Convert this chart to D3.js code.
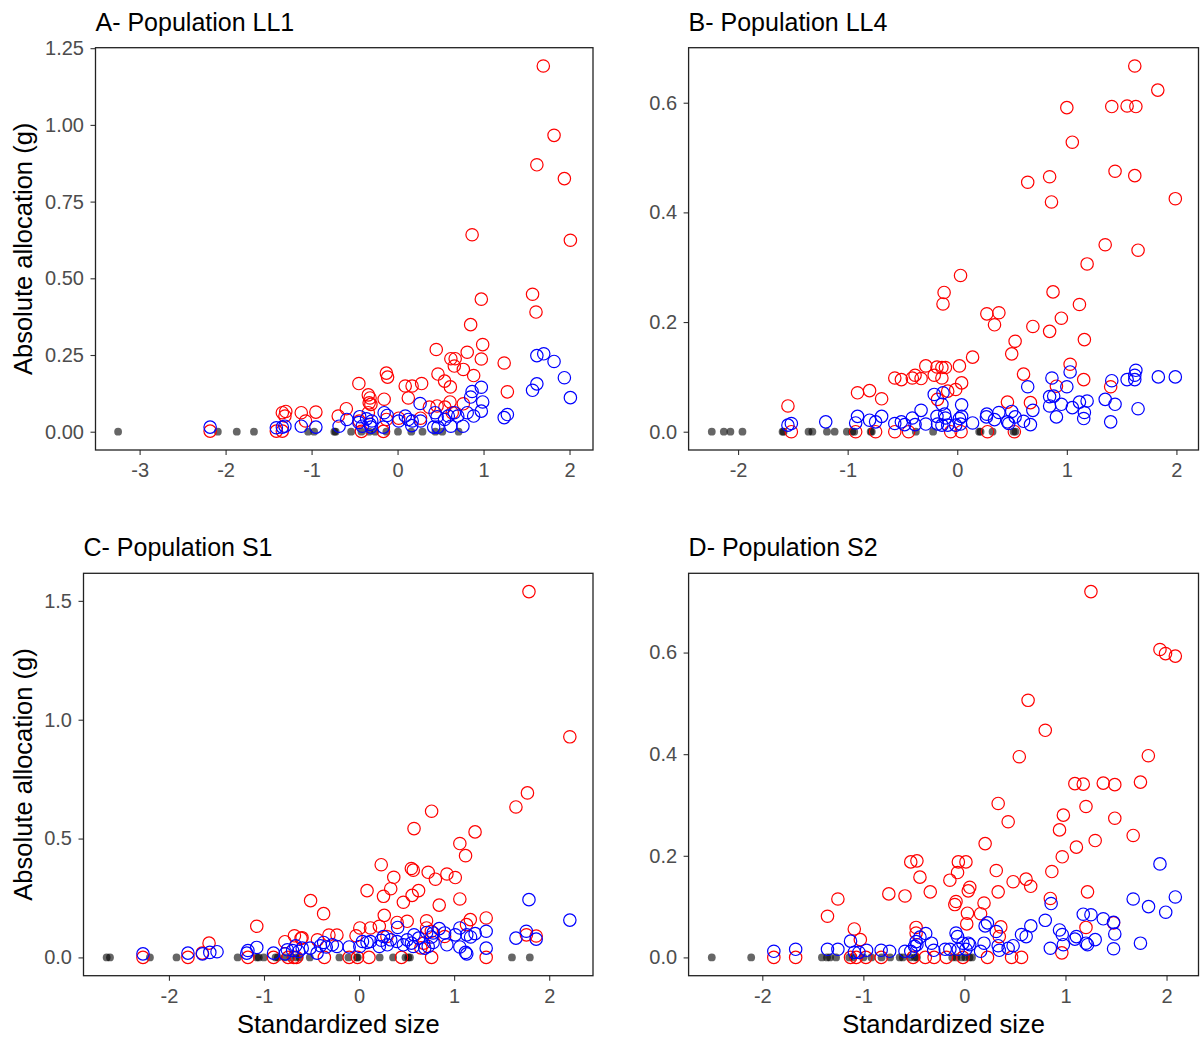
<!DOCTYPE html>
<html>
<head>
<meta charset="utf-8">
<script src="https://cdn.jsdelivr.net/npm/d3@7"></script>
<style>
  body { margin: 0; background: #fff; }
  #chart text { font-family: 'Liberation Sans', Arial, sans-serif; }
</style>
</head>
<body>
<div id="chart"></div>
<script>
// [standardized size, allocation (g)]
const ll1Red = [[1.695,1.192],[1.82,0.966],[1.62,0.87],[1.94,0.825],[2.01,0.624],[0.867,0.642],[1.57,0.448],[1.61,0.39],[0.974,0.432],[0.85,0.349],[0.99,0.284],[0.45,0.268],[0.81,0.259],[0.62,0.238],[0.67,0.238],[0.66,0.214],[0.974,0.237],[1.24,0.224],[0.765,0.203],[0.47,0.188],[0.885,0.183],[0.547,0.165],[0.614,0.146],[1.277,0.13],[-0.13,0.191],[-0.116,0.178],[0.089,0.149],[0.169,0.149],[0.28,0.157],[-0.45,0.157],[0.125,0.11],[-0.156,0.106],[-0.34,0.12],[-0.32,0.11],[-0.33,0.094],[-0.31,0.089],[-0.596,0.075],[-0.34,0.062],[-0.69,0.051],[-0.445,0.035],[-1.34,0.062],[-1.3,0.066],[-1.31,0.051],[-1.12,0.062],[-0.95,0.064],[-1.07,0.035],[0.37,0.08],[0.46,0.084],[0.55,0.08],[0.61,0.097],[0.765,0.091],[0.267,0.044],[0.013,0.044],[-0.13,0.04],[0.636,0.062],[-2.18,0.002],[-1.41,0.002],[-1.34,0.002],[-0.42,0.001],[-0.165,0.001]]
const ll1Blue = [[1.62,0.248],[1.7,0.254],[1.82,0.229],[1.94,0.176],[2.01,0.111],[1.57,0.135],[1.62,0.156],[0.974,0.145],[0.867,0.131],[0.85,0.113],[0.99,0.097],[0.974,0.067],[0.885,0.051],[0.81,0.062],[0.262,0.092],[1.24,0.046],[1.277,0.056],[-0.156,0.062],[-0.12,0.053],[0.09,0.051],[0.125,0.04],[0.17,0.035],[0.013,0.035],[0.267,0.035],[0.436,0.062],[0.46,0.049],[0.547,0.04],[0.59,0.051],[0.66,0.062],[0.7,0.051],[0.62,0.018],[0.76,0.018],[0.42,0.015],[0.47,0.015],[0.165,0.02],[-0.165,0.015],[-0.44,0.049],[-0.45,0.03],[-0.36,0.042],[-0.31,0.015],[-0.32,0.024],[-0.41,0.018],[-0.3,0.035],[-0.59,0.04],[-0.68,0.018],[-0.95,0.015],[-1.12,0.018],[-1.31,0.018],[-1.41,0.013],[-1.34,0.015],[-2.18,0.015]]
const ll1Zero = [-3.25,-2.09,-1.87,-1.67,-1.04,-0.97,-0.735,-0.72,-0.54,-0.42,-0.33,-0.26,-0.13,0.005,0.16,0.29,0.44,0.52,0.71]

const ll4Red = [[1.62,0.667],[1.83,0.623],[1.0,0.591],[1.41,0.593],[1.55,0.594],[1.63,0.593],[1.05,0.528],[1.44,0.475],[1.62,0.467],[0.843,0.465],[0.643,0.455],[0.86,0.419],[1.99,0.425],[1.35,0.341],[1.65,0.331],[1.185,0.306],[0.03,0.285],[-0.12,0.254],[-0.13,0.233],[0.874,0.255],[1.115,0.232],[0.27,0.215],[0.38,0.217],[0.34,0.195],[0.95,0.207],[0.69,0.192],[0.843,0.183],[1.16,0.168],[0.528,0.165],[0.497,0.142],[0.14,0.136],[-0.287,0.12],[-0.185,0.118],[-0.14,0.117],[-0.108,0.117],[0.02,0.12],[-0.21,0.103],[-0.14,0.098],[-0.57,0.098],[-0.51,0.095],[-0.41,0.098],[-0.385,0.103],[-0.33,0.097],[0.04,0.089],[-0.014,0.077],[-0.087,0.074],[0.605,0.105],[1.03,0.123],[1.154,0.095],[1.4,0.082],[0.905,0.083],[-0.91,0.071],[-0.8,0.075],[-0.69,0.06],[-0.18,0.059],[-1.545,0.047],[0.458,0.054],[0.668,0.053],[-1.514,0],[-0.927,0],[-0.745,0],[-0.57,0],[-0.444,0],[-0.06,0],[0.035,0],[0.276,0],[0.521,0]]
const ll4Blue = [[1.835,0.1],[1.99,0.1],[1.63,0.112],[1.62,0.095],[1.55,0.095],[1.62,0.103],[1.41,0.093],[0.864,0.098],[1.03,0.109],[1.0,0.082],[0.643,0.082],[0.843,0.064],[0.88,0.065],[1.35,0.059],[1.44,0.05],[1.115,0.054],[1.185,0.056],[0.95,0.05],[1.05,0.044],[0.843,0.047],[1.65,0.042],[0.69,0.039],[1.16,0.035],[1.154,0.024],[0.905,0.027],[1.4,0.018],[0.04,0.049],[-0.21,0.068],[-0.13,0.071],[-0.14,0.05],[-0.33,0.039],[0.27,0.032],[0.266,0.027],[0.38,0.035],[0.34,0.022],[0.497,0.037],[0.528,0.027],[0.458,0.018],[0.47,0.015],[0.605,0.019],[0.668,0.013],[0.14,0.016],[-0.185,0.028],[-0.115,0.032],[-0.108,0.025],[0.04,0.028],[0.02,0.024],[-0.287,0.014],[-0.18,0.014],[-0.14,0.012],[-0.087,0.012],[-0.014,0.012],[0.03,0.014],[-0.41,0.025],[-0.385,0.013],[-0.48,0.013],[-0.51,0.018],[-0.57,0.015],[-0.69,0.028],[-0.745,0.018],[-0.8,0.021],[-0.91,0.028],[-0.927,0.016],[-1.2,0.018],[-1.545,0.012],[-1.514,0.015]]
const ll4Zero = [-2.24,-2.13,-2.07,-1.96,-1.594,-1.584,-1.357,-1.322,-1.189,-1.119,-1.007,-0.958,-0.94,-0.79,-0.78,-0.378,-0.22,0.2,0.213,0.322,0.514,0.531]

const s1Red = [[1.787,1.539],[2.217,0.928],[1.771,0.692],[1.65,0.633],[0.763,0.615],[0.578,0.542],[1.22,0.528],[1.06,0.479],[1.12,0.428],[0.233,0.39],[0.55,0.374],[0.57,0.367],[0.727,0.358],[0.924,0.351],[0.365,0.337],[1.012,0.336],[0.803,0.329],[0.333,0.289],[0.084,0.281],[0.626,0.281],[0.257,0.257],[0.558,0.261],[1.06,0.246],[-0.51,0.239],[0.466,0.232],[0.843,0.22],[-0.373,0.184],[0.265,0.177],[0.4,0.147],[0.506,0.152],[0.71,0.154],[1.17,0.159],[1.13,0.138],[1.337,0.166],[-1.076,0.131],[0.008,0.124],[0.12,0.124],[0.213,0.131],[0.71,0.124],[0.76,0.11],[-0.317,0.094],[-0.233,0.094],[-0.032,0.091],[-0.68,0.091],[-0.61,0.08],[-0.6,0.083],[-0.78,0.066],[-0.438,0.074],[0.293,0.088],[0.9,0.088],[1.76,0.095],[1.863,0.09],[-1.578,0.06],[-1.65,0.018],[0.68,0.06],[0.65,0.04],[-2.273,0],[-1.8,0],[-1.169,0],[-0.9,0],[-0.747,0],[-0.687,0],[-0.659,0],[-0.365,0],[-0.104,0],[-0.016,0],[0.104,0],[0.446,0],[0.763,0],[1.337,0]]
const s1Blue = [[1.787,0.243],[2.217,0.157],[1.759,0.11],[1.863,0.077],[1.65,0.081],[1.337,0.11],[1.337,0.039],[0.406,0.126],[1.06,0.124],[1.012,0.095],[1.133,0.095],[1.221,0.1],[1.173,0.086],[0.843,0.121],[0.9,0.103],[0.779,0.103],[0.711,0.105],[0.924,0.053],[1.06,0.044],[1.12,0.021],[1.133,0.015],[0.763,0.086],[0.779,0.063],[0.727,0.046],[0.691,0.039],[0.578,0.095],[0.627,0.081],[0.55,0.06],[0.57,0.046],[0.506,0.074],[0.466,0.053],[0.398,0.067],[0.333,0.074],[0.297,0.053],[0.233,0.072],[0.257,0.088],[0.213,0.046],[0.12,0.067],[0.084,0.063],[0.036,0.067],[0.008,0.046],[-0.104,0.044],[-0.233,0.046],[-0.281,0.053],[-0.345,0.044],[-0.373,0.063],[-0.406,0.049],[-0.442,0.018],[-0.514,0.039],[-0.598,0.039],[-0.635,0.025],[-0.667,0.049],[-0.699,0.029],[-0.755,0.032],[-0.779,0.015],[-0.9,0.018],[-1.076,0.042],[-1.169,0.029],[-1.181,0.018],[-1.494,0.024],[-1.57,0.021],[-1.647,0.015],[-1.8,0.018],[-2.273,0.015]]
const s1Zero = [-2.655,-2.62,-2.2,-1.92,-1.277,-1.076,-1.055,-1.002,-0.878,-0.854,-0.783,-0.719,-0.659,-0.624,-0.518,-0.207,-0.112,-0.023,-0.013,0.217,0.358,0.488,0.517,0.535,1.608,1.796]

const s2Red = [[1.252,0.72],[1.935,0.606],[1.99,0.598],[2.087,0.593],[0.63,0.506],[0.8,0.447],[0.543,0.395],[1.82,0.397],[1.093,0.342],[1.176,0.341],[1.374,0.343],[1.488,0.34],[1.742,0.345],[0.334,0.303],[1.203,0.297],[0.979,0.28],[0.433,0.267],[1.488,0.274],[0.941,0.251],[1.67,0.24],[1.294,0.23],[0.205,0.224],[1.108,0.217],[0.968,0.198],[-0.531,0.188],[-0.47,0.19],[-0.06,0.188],[0.015,0.188],[-0.068,0.167],[0.315,0.171],[0.865,0.169],[-0.44,0.158],[-0.144,0.152],[0.482,0.149],[0.61,0.154],[0.656,0.14],[0.053,0.138],[0.038,0.131],[-0.338,0.129],[0.334,0.129],[1.218,0.129],[-0.748,0.125],[-0.588,0.121],[-1.252,0.115],[-0.083,0.11],[-0.095,0.104],[0.194,0.107],[0.85,0.116],[0.03,0.087],[0.16,0.086],[-1.355,0.081],[0.023,0.066],[-1.09,0.056],[-1.03,0.035],[-0.478,0.059],[-0.478,0.048],[0.36,0.06],[0.345,0.041],[1.203,0.059],[1.476,0.068],[-1.886,0],[-1.67,0],[-1.127,0],[-1.07,0],[-0.975,0],[-0.823,0],[-0.508,0],[-0.387,0],[-0.3,0],[-0.178,0],[-0.015,0],[0.228,0],[0.467,0],[0.565,0],[0.964,0.009]]
const s2Blue = [[1.935,0.184],[1.67,0.115],[1.822,0.1],[1.992,0.089],[2.087,0.119],[1.176,0.085],[1.252,0.084],[1.374,0.076],[1.476,0.069],[1.488,0.046],[1.742,0.028],[1.476,0.017],[0.8,0.073],[0.858,0.106],[0.941,0.054],[0.968,0.045],[0.979,0.025],[0.85,0.018],[1.108,0.041],[1.093,0.036],[1.203,0.028],[1.218,0.025],[1.294,0.035],[0.657,0.062],[0.611,0.041],[0.565,0.045],[0.482,0.023],[0.433,0.018],[0.334,0.023],[0.345,0.014],[0.315,0.051],[0.228,0.068],[0.205,0.062],[0.194,0.028],[0.16,0.012],[0.053,0.025],[0.038,0.028],[0.015,0.016],[-0.015,0.028],[-0.061,0.016],[-0.083,0.048],[-0.068,0.041],[-0.144,0.016],[-0.19,0.016],[-0.304,0.014],[-0.326,0.028],[-0.383,0.047],[-0.44,0.04],[-0.47,0.025],[-0.478,0.031],[-0.493,0.022],[-0.531,0.012],[-0.588,0.012],[-0.74,0.012],[-0.824,0.014],[-0.968,0.014],[-1.044,0.01],[-1.089,0.01],[-1.127,0.032],[-1.252,0.016],[-1.355,0.016],[-1.67,0.016],[-1.886,0.012]]
const s2Zero = [-2.5,-2.11,-1.41,-1.36,-1.33,-1.27,-1.14,-1.1,-1.0,-0.92,-0.82,-0.735,-0.64,-0.61,-0.54,-0.49,-0.47,-0.12,-0.08,-0.03,0.01,0.05,0.075]

const titles = ['A- Population LL1', 'B- Population LL4', 'C- Population S1', 'D- Population S2']
const xTicksA = [-3, -2, -1, 0, 1, 2]
const xTicks = [-2, -1, 0, 1, 2]
const yTicksA = [0, 0.25, 0.5, 0.75, 1, 1.25]
const yTicksC = [0, 0.5, 1, 1.5]
const yTicksBD = [0, 0.2, 0.4, 0.6]

const panels = [
  {title: titles[0], red: ll1Red, blue: ll1Blue, zero: ll1Zero, xTicks: xTicksA, yTicks: yTicksA, yFmt: '.2f',
    box: {left: 95.5, right: 593, top: 47.7, bottom: 450}, yTitle: true, xTitle: false},
  {title: titles[1], red: ll4Red, blue: ll4Blue, zero: ll4Zero, xTicks: xTicks, yTicks: yTicksBD, yFmt: '.1f',
    box: {left: 688.6, right: 1198.5, top: 47.7, bottom: 450}, yTitle: false, xTitle: false},
  {title: titles[2], red: s1Red, blue: s1Blue, zero: s1Zero, xTicks: xTicks, yTicks: yTicksC, yFmt: '.1f',
    box: {left: 83.5, right: 593, top: 573.3, bottom: 975.7}, yTitle: true, xTitle: true},
  {title: titles[3], red: s2Red, blue: s2Blue, zero: s2Zero, xTicks: xTicks, yTicks: yTicksBD, yFmt: '.1f',
    box: {left: 688.6, right: 1198.5, top: 573.3, bottom: 975.7}, yTitle: false, xTitle: true},
]

const svg = d3
  .select('#chart')
  .append('svg')
  .attr('width', 1200)
  .attr('height', 1041)

const tickColor = '#333'
const labelColor = '#4d4d4d'

panels.forEach(p => {
  const {left, right, top, bottom} = p.box
  const pts = [...p.red, ...p.blue, ...p.zero.map(v => [v, 0])]
  const [x0, x1] = d3.extent(pts, d => d[0])
  const [y0, y1] = d3.extent(pts, d => d[1])
  const xPad = (x1 - x0) * 0.05
  const yPad = (y1 - y0) * 0.05

  const xScale = d3.scaleLinear().domain([x0 - xPad, x1 + xPad]).range([left, right])
  const yScale = d3.scaleLinear().domain([y0 - yPad, y1 + yPad]).range([bottom, top])

  const g = svg.append('g')

  g.append('g')
    .attr('transform', `translate(0, ${bottom})`)
    .call(d3.axisBottom(xScale).tickValues(p.xTicks).tickSize(5).tickPadding(8).tickFormat(d => String(d)))
    .call(a => a.select('.domain').remove())
    .call(a => a.selectAll('line').attr('stroke', tickColor).attr('stroke-width', 1.1))
    .call(a => a.selectAll('text').attr('fill', labelColor).attr('font-size', 20).attr('font-family', null))

  g.append('g')
    .attr('transform', `translate(${left}, 0)`)
    .call(d3.axisLeft(yScale).tickValues(p.yTicks).tickSize(5).tickPadding(6.5).tickFormat(d3.format(p.yFmt)))
    .call(a => a.select('.domain').remove())
    .call(a => a.selectAll('line').attr('stroke', tickColor).attr('stroke-width', 1.1))
    .call(a => a.selectAll('text').attr('fill', labelColor).attr('font-size', 20).attr('font-family', null))

  g.append('g')
    .selectAll('circle')
    .data(p.zero)
    .enter()
    .append('circle')
    .attr('cx', d => xScale(d))
    .attr('cy', yScale(0))
    .attr('r', 3.9)
    .attr('fill', '#000')
    .attr('fill-opacity', 0.6)

  const rings = (data, color) =>
    g.append('g')
      .selectAll('circle')
      .data(data)
      .enter()
      .append('circle')
      .attr('cx', d => xScale(d[0]))
      .attr('cy', d => yScale(d[1]))
      .attr('r', 6.2)
      .attr('fill', 'none')
      .attr('stroke', color)
      .attr('stroke-width', 1.2)

  rings(p.red, '#ff0000')
  rings(p.blue, '#0000ff')

  g.append('rect')
    .attr('x', left)
    .attr('y', top)
    .attr('width', right - left)
    .attr('height', bottom - top)
    .attr('fill', 'none')
    .attr('stroke', '#222')
    .attr('stroke-width', 1.3)

  g.append('text')
    .attr('x', left)
    .attr('y', top - 17)
    .attr('font-size', 25)
    .attr('fill', '#000')
    .text(p.title)

  if (p.yTitle) {
    g.append('text')
      .attr('transform', `translate(32, ${(top + bottom) / 2}) rotate(-90)`)
      .attr('text-anchor', 'middle')
      .attr('font-size', 25.5)
      .attr('fill', '#000')
      .text('Absolute allocation (g)')
  }

  if (p.xTitle) {
    g.append('text')
      .attr('x', (left + right) / 2)
      .attr('y', 1033)
      .attr('text-anchor', 'middle')
      .attr('font-size', 25.5)
      .attr('fill', '#000')
      .text('Standardized size')
  }
})
</script>
</body>
</html>
